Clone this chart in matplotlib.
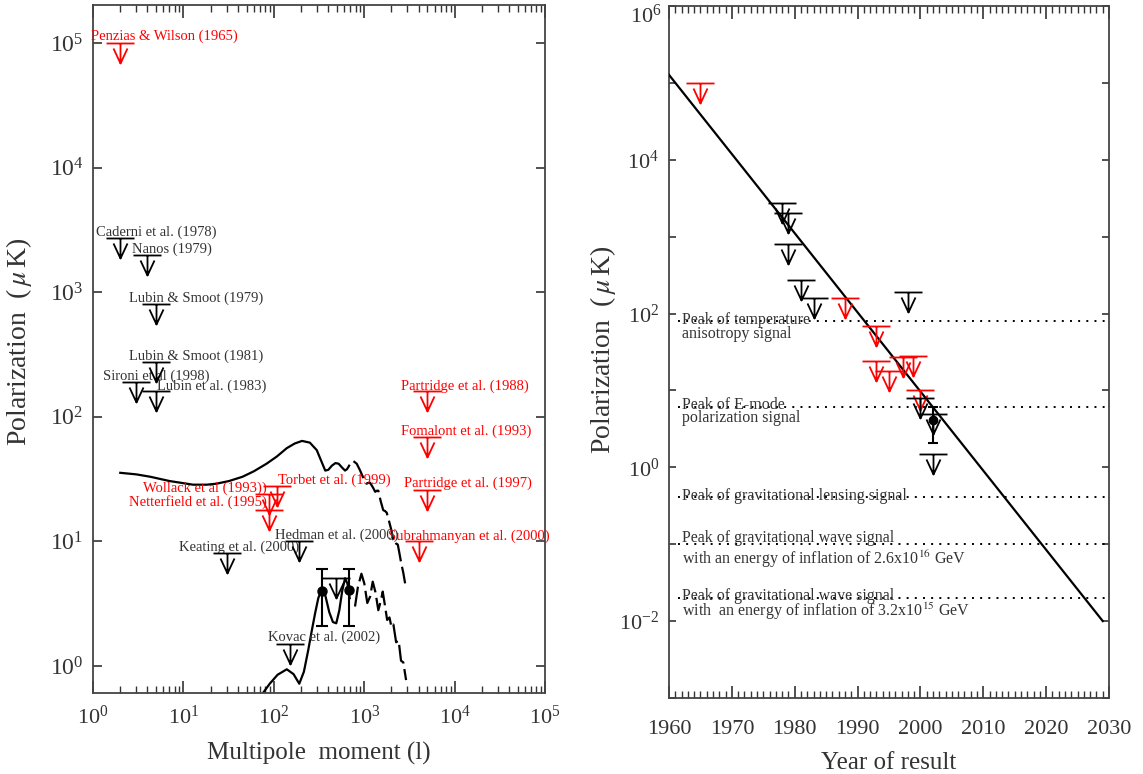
import numpy as np
import matplotlib
matplotlib.use("Agg")
import matplotlib.pyplot as plt
from matplotlib.path import Path
from matplotlib.ticker import (FixedLocator, FuncFormatter, LogFormatterMathtext,
                               LogLocator, MultipleLocator, NullFormatter, NullLocator)

plt.rcParams.update({
    "font.family": "serif",
    "font.serif": ["Liberation Serif", "DejaVu Serif"],
    "mathtext.fontset": "stix",
    "axes.unicode_minus": False,
})

RED = "#ff0000"
INK = "#000000"
TXT = "#333333"
PX = 0.72  # points per pixel at dpi=100

# ---- left panel: polarization vs multipole ----
tt_l_solid = [2, 3, 4.3, 7, 12.8, 18, 23, 32, 45, 60, 83, 108, 139, 170, 205, 250, 298,
              335, 370, 400, 438, 480, 520, 570, 613, 645, 680]
tt_v_solid = [35.5, 34.5, 33, 30.5, 28.5, 28.5, 29, 30.5, 33, 36.5, 42, 48, 56, 61, 64, 62, 54,
              44, 37, 37.5, 40.5, 42.5, 42, 39, 37, 38, 40.5]
tt_l_dash = [760, 825, 900, 1000, 1060, 1110, 1160, 1250, 1320, 1380, 1430, 1520, 1620, 1700,
             1770, 1880, 2000, 2100, 2170, 2270, 2350, 2450, 2550, 2700, 2830]
tt_v_dash = [44, 42, 37, 31, 29, 29.5, 29.5, 27, 25, 25.5, 25.5, 21, 17.8, 17.5,
             17, 14.5, 12.2, 10.2, 9.4, 9.6, 9.4, 8, 6.8, 5.6, 4.6]

ee_l_solid = [75, 90, 110, 139, 165, 191, 215, 240, 262, 286, 310, 337, 370, 410, 450, 490,
              530, 570, 613, 650, 690]
ee_v_solid = [0.6, 0.72, 0.85, 0.94, 0.86, 0.72, 0.9, 1.34, 1.9, 2.65, 3.5, 4.1, 3.7, 2.7, 2.25, 2.2,
              2.8, 4.0, 5.06, 4.6, 3.5]
ee_l_dash = [790, 850, 930, 1000, 1080, 1160, 1240, 1330, 1430, 1520, 1600, 1700, 1790, 1900,
             2000, 2100, 2250, 2400, 2550, 2700, 2900]
ee_v_dash = [3.0, 4.3, 5.5, 4.6, 3.2, 3.6, 4.75, 3.9, 2.8, 3.3, 3.95, 3.0, 2.34, 2.45,
             2.05, 2.15, 1.55, 1.6, 1.1, 1.07, 0.77]

# DASI E-mode detections
det_l = [341, 679]
det_v = [4.0, 4.1]
det_lo = [2.1, 2.1]
det_hi = [6.0, 6.0]

# upper limits in multipole space
lim_names = ["Penzias & Wilson (1965)", "Caderni et al. (1978)", "Nanos (1979)",
             "Lubin & Smoot (1979)", "Lubin & Smoot (1981)", "Sironi et al (1998)",
             "Lubin et al. (1983)", "Partridge et al. (1988)", "Fomalont et al. (1993)",
             "Partridge et al. (1997)", "Subrahmanyan et al. (2000)", "Wollack et al (1993))",
             "Netterfield et al. (1995)", "Torbet et al. (1999)", "Keating et al. (2000)",
             "Hedman et al. (2000)", "Kovac et al. (2002)", ""]
lim_l = [2, 2, 4, 5, 5, 3, 5, 5000, 5000, 5000, 4000, 88, 88, 108, 30, 190, 150, 490]
lim_v = [1e5, 2700, 2000, 800, 275, 190, 160, 160, 69, 26, 10, 24, 18, 27.6, 8, 10, 1.5, 5.1]
lim_red = [1, 0, 0, 0, 0, 0, 0, 1, 1, 1, 1, 1, 1, 1, 0, 0, 0, 0]
# label offsets from the bar centre, in pixels (dx, dy, alignment)
lim_label_pos = [(-29, 3, "left"), (-24, 3, "left"), (-15, 2, "left"), (-27, 2, "left"),
                 (-27, 2, "left"), (-33, 2, "left"), (1, 2, "left"), (-26, 2, "left"),
                 (-26, 2, "left"), (-23, 3, "left"), (-31, 2, "left"), (-2, 2, "right"),
                 (-2, 4, "right"), (1, 3, "left"), (-48, 3, "left"), (-24, 3, "left"),
                 (-22, 3, "left"), (0, 0, "left")]

# ---- right panel: limits vs year ----
yr_years = [1965, 1978, 1979, 1979, 1981, 1983, 1988, 1993, 1993, 1995, 1997.3, 1998.8, 1998,
            2000, 2000, 2002, 2002]
yr_vals = [1e5, 2700, 2000, 800, 275, 160, 160, 69, 24, 18, 27, 28, 190, 10, 8, 5.0, 1.5]
yr_red = [1, 0, 0, 0, 0, 0, 1, 1, 1, 1, 1, 1, 0, 1, 0, 0, 0]

yr_det_year = [2002]
yr_det_val = [4.1]
yr_det_lo = [2.1]
yr_det_hi = [6.0]

trend_years = [1960, 2029]
trend_vals = [1.27e5, 0.01]

peak_vals = [81, 6.0, 0.41, 0.1, 0.02]
peak_texts = [["Peak of temperature", "anisotropy signal"],
              ["Peak of E-mode", "polarization signal"],
              ["Peak of gravitational lensing signal"],
              ["Peak of gravitational wave signal",
               r"with an energy of inflation of 2.6x10$^{16}$ GeV"],
              ["Peak of gravitational wave signal",
               r"with  an energy of inflation of 3.2x10$^{15}$ GeV"]]
# vertical offsets (pixels, down positive) of each text line from its dotted line
peak_text_dy = [[-3, 11], [-4, 9], [-3], [-8, 12], [-4, 10]]

# upper-limit symbol: bar with a downward arrow, in pixel units
UL_MARKER = Path([(-14, 0), (14, 0), (0, 0), (0, -20), (-7, -5), (0, -20), (7, -5)],
                 [Path.MOVETO, Path.LINETO, Path.MOVETO, Path.LINETO,
                  Path.MOVETO, Path.LINETO, Path.LINETO])
UL_SIZE = 2 * 20 * PX


def draw_limits(ax, xs, ys, reds):
    for x, y, r in zip(xs, ys, reds):
        ax.plot([x], [y], ls="none", marker=UL_MARKER, ms=UL_SIZE, mfc="none",
                mec=RED if r else INK, mew=1.3, zorder=4)


def style_spines(ax):
    for s in ax.spines.values():
        s.set_color("#444444")
        s.set_linewidth(1.3)


fig = plt.figure(figsize=(11.43, 7.74), dpi=100)
axl = fig.add_axes([0.0814, 0.1047, 0.3955, 0.8889])
axr = fig.add_axes([0.5853, 0.0982, 0.3850, 0.8941])

# left panel
axl.set_xscale("log")
axl.set_yscale("log")
axl.plot(tt_l_solid, tt_v_solid, color=INK, lw=1.6)
axl.plot(tt_l_dash, tt_v_dash, color=INK, lw=1.6, ls=(0, (9, 2.5)))
axl.plot(ee_l_solid, ee_v_solid, color=INK, lw=1.6)
axl.plot(ee_l_dash, ee_v_dash, color=INK, lw=1.6, ls=(0, (9, 2.5)))

yerr = [np.subtract(det_v, det_lo), np.subtract(det_hi, det_v)]
axl.errorbar(det_l, det_v, yerr=yerr, fmt="o", ms=6.5, color=INK, ecolor=INK,
             elinewidth=1.5, capsize=4, capthick=1.5, zorder=5)

draw_limits(axl, lim_l, lim_v, lim_red)
for name, l, v, r, (dx, dy, ha) in zip(lim_names, lim_l, lim_v, lim_red, lim_label_pos):
    if not name:
        continue
    axl.annotate(name, (l, v), xytext=(dx * PX, dy * PX), textcoords="offset points",
                 ha=ha, va="baseline", fontsize=10.5, color=RED if r else TXT, zorder=3)

axl.set_xlim(1, 1e5)
axl.set_ylim(0.607, 2.02e5)
axl.yaxis.set_major_locator(FixedLocator([1, 10, 100, 1e3, 1e4, 1e5]))
axl.yaxis.set_major_formatter(LogFormatterMathtext())
axl.yaxis.set_minor_locator(NullLocator())
axl.xaxis.set_major_locator(FixedLocator([1, 10, 100, 1e3, 1e4, 1e5]))
axl.xaxis.set_major_formatter(LogFormatterMathtext())
axl.xaxis.set_minor_locator(LogLocator(subs=np.arange(2, 10)))
axl.xaxis.set_minor_formatter(NullFormatter())
axl.tick_params(axis="x", which="major", direction="in", length=9, width=1.2,
                top=True, labelsize=16, pad=9, colors="#333333")
axl.tick_params(axis="x", which="minor", direction="in", length=5, width=1.0,
                top=True, colors="#333333")
axl.tick_params(axis="y", which="major", direction="in", length=6.5, width=1.2,
                right=True, labelsize=17, pad=7, colors="#333333")
axl.set_xlabel("Multipole  moment (l)", fontsize=18, color=TXT)
axl.set_ylabel(r"Polarization  ($\,\mu\,$K)", fontsize=20, color=TXT)
axl.xaxis.set_label_coords(0.5, -0.071)
axl.yaxis.set_label_coords(-0.13, 0.51)
style_spines(axl)

# right panel
axr.set_yscale("log")
axr.plot(trend_years, trend_vals, color=INK, lw=1.6, zorder=3)
draw_limits(axr, yr_years, yr_vals, yr_red)
yerr_r = [np.subtract(yr_det_val, yr_det_lo), np.subtract(yr_det_hi, yr_det_val)]
axr.errorbar(yr_det_year, yr_det_val, yerr=yerr_r, fmt="o", ms=6, color=INK, ecolor=INK,
             elinewidth=1.5, capsize=3.5, capthick=1.5, zorder=5)

for v, lines, offs in zip(peak_vals, peak_texts, peak_text_dy):
    axr.plot([1961.5, 2030], [v, v], color=INK, lw=1.4, ls=(0, (1, 3.2)), zorder=2)
    for txt, dy in zip(lines, offs):
        axr.annotate(txt, (1962.1, v), xytext=(0, -dy * PX), textcoords="offset points",
                     ha="left", va="center_baseline", fontsize=11.5, color=TXT, zorder=3)

axr.set_xlim(1960, 2030)
axr.set_ylim(1e-3, 1e6)
axr.xaxis.set_major_locator(MultipleLocator(10))
axr.xaxis.set_minor_locator(MultipleLocator(1))
axr.yaxis.set_major_locator(FixedLocator(10.0 ** np.arange(-3, 7)))
axr.yaxis.set_minor_locator(NullLocator())


def even_decades(v, _):
    e = int(round(np.log10(v)))
    if e % 2 or e >= 6:
        return ""
    return rf"$\mathdefault{{10^{{{e}}}}}$"


axr.yaxis.set_major_formatter(FuncFormatter(even_decades))
# top decade label sits a little below its tick so it stays inside the figure
axr.annotate(r"$\mathdefault{10^{6}}$", (0, 1e6), xycoords=axr.get_yaxis_transform(),
             xytext=(-7 * PX, -10 * PX), textcoords="offset points", ha="right",
             va="center", fontsize=16, color="#333333")
axr.tick_params(axis="x", which="major", direction="in", length=9, width=1.2,
                top=True, labelsize=16, pad=16, colors="#333333")
axr.tick_params(axis="x", which="minor", direction="in", length=5, width=1.0,
                top=True, colors="#333333")
axr.tick_params(axis="y", which="major", direction="in", length=5, width=1.2,
                right=True, labelsize=16, pad=7, colors="#333333")
axr.set_xlabel("Year of result", fontsize=18, color=TXT)
axr.set_ylabel(r"Polarization  ($\,\mu\,$K)", fontsize=20, color=TXT)
axr.xaxis.set_label_coords(0.5, -0.078)
axr.yaxis.set_label_coords(-0.115, 0.503)
style_spines(axr)

fig.savefig("out.png", dpi=100)
